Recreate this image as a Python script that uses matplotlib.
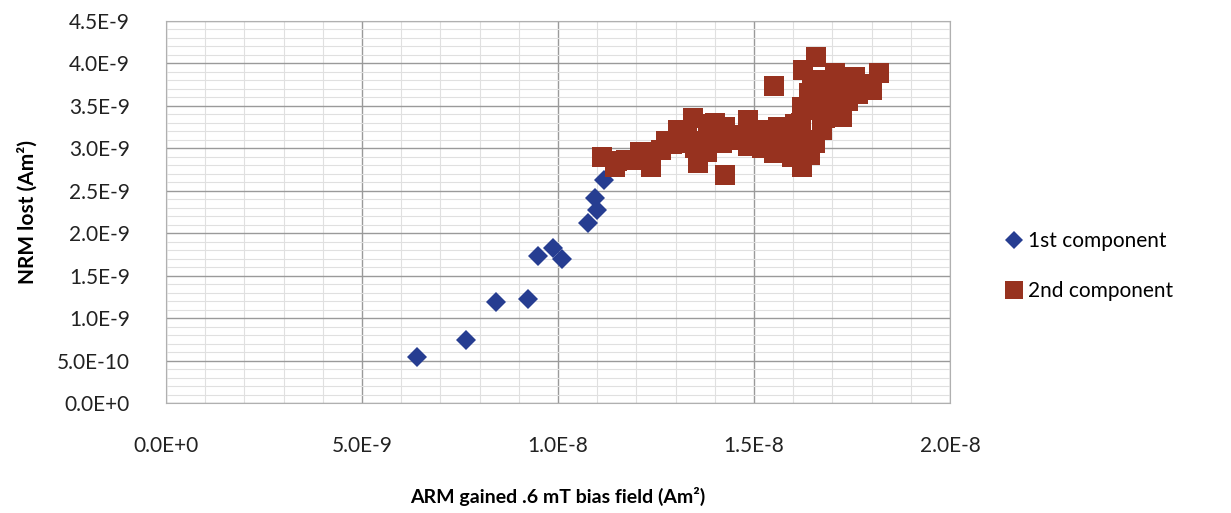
import numpy as np
import matplotlib.pyplot as plt
from matplotlib.ticker import FuncFormatter, MultipleLocator

# 1st component (ARM gained, NRM lost), Am^2
arm_first = [6.41e-9, 7.65e-9, 8.41e-9, 9.24e-9, 9.50e-9, 9.86e-9, 10.09e-9,
             10.76e-9, 11.00e-9, 10.93e-9, 11.16e-9]
nrm_first = [0.545e-9, 0.74e-9, 1.19e-9, 1.22e-9, 1.73e-9, 1.83e-9, 1.69e-9,
             2.12e-9, 2.27e-9, 2.41e-9, 2.62e-9]

# 2nd component (values in units of 1e-9 Am^2)
arm_second = [11.12, 11.44, 12.08, 12.38, 12.63, 12.25, 13.06, 13.44, 13.83, 14.25,
              13.57, 13.22, 14.17, 13.66, 14.27, 14.85, 15.19, 14.85, 15.52, 16.21,
              15.96, 15.62, 15.51, 16.58, 16.26, 17.06, 17.57, 18.18, 18.00, 17.66,
              17.24, 16.73, 16.55, 16.21, 16.04, 16.64, 17.06, 16.47, 16.98, 16.42,
              14.55, 15.19, 11.74, 12.76,
              13.30, 13.90, 14.00, 13.50, 14.40, 15.00, 15.30, 15.80, 15.50, 16.00,
              15.70, 16.30, 16.20, 16.80, 16.90, 16.40, 17.20, 17.40, 16.70, 17.80,
              16.60, 12.90, 12.20, 11.50, 13.80]
nrm_second = [2.89, 2.78, 2.96, 2.78, 2.98, 2.86, 3.21, 3.35, 3.29, 3.25,
              2.82, 3.06, 3.06, 3.09, 2.68, 3.33, 3.21, 3.02, 2.94, 2.78,
              2.90, 3.25, 3.73, 4.07, 3.92, 3.88, 3.84, 3.88, 3.68, 3.64,
              3.37, 3.21, 3.06, 3.49, 3.29, 3.60, 3.60, 3.80, 3.46, 2.92,
              3.15, 3.00, 2.86, 3.09,
              3.20, 3.15, 3.30, 3.00, 3.10, 3.15, 3.05, 3.10, 3.20, 3.05,
              2.95, 3.10, 3.30, 3.35, 3.60, 3.65, 3.70, 3.55, 3.80, 3.75,
              3.45, 3.05, 2.95, 2.85, 2.95]
arm_second = [v * 1e-9 for v in arm_second]
nrm_second = [v * 1e-9 for v in nrm_second]


def sci_fmt(v, pos):
    mant, exp = f"{v:.1E}".split('E')
    return f"{mant}E{int(exp):+d}"


plt.rcParams['font.family'] = ['Lato', 'DejaVu Sans']

fig = plt.figure(figsize=(12.31, 5.13), dpi=100)
ax = fig.add_axes([0.1349, 0.2144, 0.6369, 0.7452])

ax.plot(arm_first, nrm_first, linestyle='none', marker='D', markersize=10,
        color='#263d91', markeredgewidth=0, label='1st component')
ax.plot(arm_second, nrm_second, linestyle='none', marker='s', markersize=14.5,
        color='#97321f', markeredgewidth=0, label='2nd component')

ax.set_xlim(0, 2.0e-8)
ax.set_ylim(0, 4.5e-9)
ax.xaxis.set_major_locator(MultipleLocator(5e-9))
ax.xaxis.set_minor_locator(MultipleLocator(1e-9))
ax.yaxis.set_major_locator(MultipleLocator(5e-10))
ax.yaxis.set_minor_locator(MultipleLocator(1e-10))
ax.xaxis.set_major_formatter(FuncFormatter(sci_fmt))
ax.yaxis.set_major_formatter(FuncFormatter(sci_fmt))
ax.xaxis.get_offset_text().set_visible(False)
ax.yaxis.get_offset_text().set_visible(False)

ax.grid(True, which='major', color='#9a9a9a', linewidth=1.0)
ax.grid(True, which='minor', color='#e0e0e0', linewidth=0.8)
ax.set_axisbelow(True)
for s in ax.spines.values():
    s.set_color('#b0b0b0')

ax.tick_params(which='both', length=0, labelsize=15, colors='#222222')
ax.tick_params(axis='x', pad=24)
ax.tick_params(axis='y', pad=26)

ax.set_xlabel('ARM gained .6 mT bias field (Am²)', fontsize=14,
              fontweight='bold', labelpad=22)
ax.set_ylabel('NRM lost (Am²)', fontsize=15, fontweight='bold', labelpad=14)

fig.legend(loc='center left', bbox_to_anchor=(0.8, 0.481), frameon=False,
           fontsize=15, labelspacing=1.45, handletextpad=0.15, markerscale=0.9,
           handlelength=1.0)

fig.savefig('out.png', dpi=100)
